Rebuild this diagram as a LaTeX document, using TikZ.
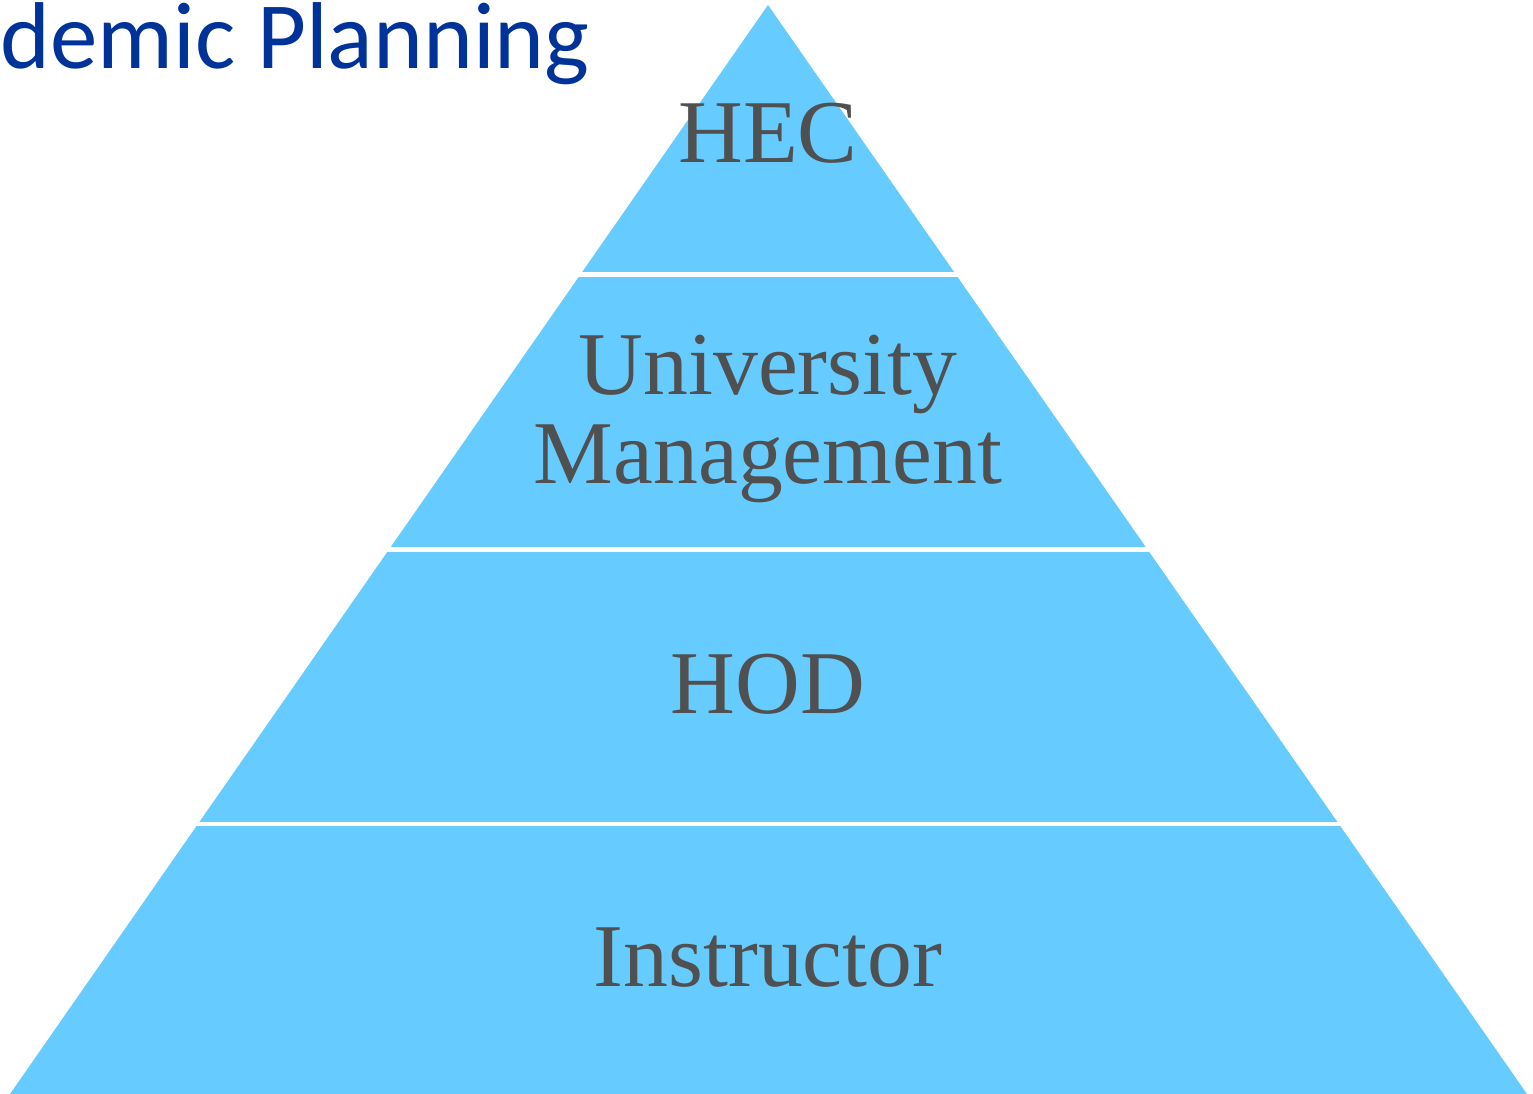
\documentclass[tikz,border=0pt]{standalone}
\usepackage{fontspec}
\setmainfont{Liberation Serif}
\newfontfamily\titlefont{Carlito}
\definecolor{pyrblue}{RGB}{102,204,255}
\definecolor{labelgray}{RGB}{80,80,80}
\definecolor{titleblue}{RGB}{0,51,153}
\tikzset{
	layer/.style={inner sep=0pt,anchor=base,text=labelgray,align=center,
		font=\fontsize{25.5}{25.3}\selectfont}
}
\begin{document}
\begin{tikzpicture}[x=0.01cm,y=-0.01cm]
\useasboundingbox (0,0) rectangle (1533,1094);
% The title
\node[inner sep=0pt,anchor=base west,text=titleblue,font=\titlefont\fontsize{27}{27}\selectfont] (title) at (0,69) {demic Planning};

% The pyramid
\fill[pyrblue] (768,5) -- (1527,1094) -- (10,1094) -- cycle;

% The white gaps between the layers
\foreach \coo in {274.5,549.5,824}
{
	\draw[white,line width=1.3pt] (0,\coo) -- (1533,\coo);
}

% The labels (base of a two-line label is its last line)
\node[layer] (hec) at (768,163) {HEC};
\node[layer] (univ) at (768,483) {University\\Management};
\node[layer] (hod) at (768,713) {HOD};
\node[layer] (instr) at (768,986) {Instructor};

\end{tikzpicture}
\end{document}
